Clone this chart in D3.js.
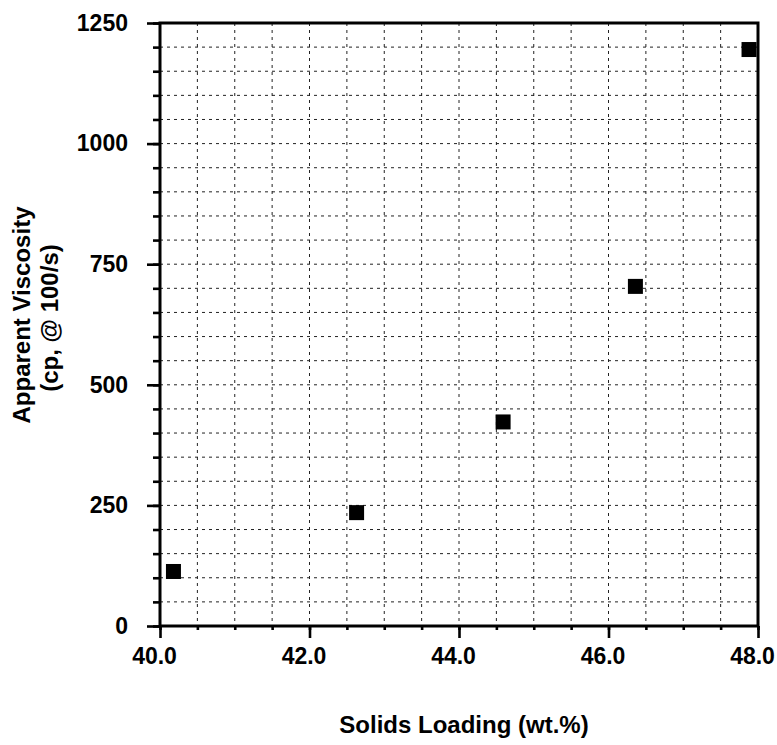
<!DOCTYPE html>
<html>
<head>
<meta charset="utf-8">
<script src="https://cdn.jsdelivr.net/npm/d3@7"></script>
<style>
  html, body { margin: 0; padding: 0; background: #fff; }
  svg { display: block; }
  text { font-family: "Liberation Sans", Arial, Helvetica, sans-serif; font-weight: bold; fill: #000; }
</style>
</head>
<body>
<script>
// Data
const solidsLoading = [40.18, 42.63, 44.59, 46.36, 47.88];
const viscosity = [113, 235, 423, 704, 1195];
const xTickLabels = ["40.0", "42.0", "44.0", "46.0", "48.0"];
const yTickLabels = ["0", "250", "500", "750", "1000", "1250"];
const xTitle = "Solids Loading (wt.%)";
const yTitleLines = ["Apparent Viscosity", "(cp, @ 100/s)"];

const W = 777, H = 745;
const svg = d3.select("body").append("svg").attr("width", W).attr("height", H);

const x = d3.scaleLinear().domain([40, 48]).range([160, 758]);
const y = d3.scaleLinear().domain([0, 1250]).range([626, 23]);

// Grid lines
const xGrid = d3.range(40.5, 48, 0.5);
const yGrid = d3.range(50, 1250, 50);
const grid = svg.append("g");
grid.selectAll("line.v").data(xGrid).join("line")
  .attr("x1", d => x(d)).attr("x2", d => x(d))
  .attr("y1", y(1250)).attr("y2", y(0))
  .attr("stroke", "#222").attr("stroke-width", 1).attr("stroke-dasharray", "3,4");
grid.selectAll("line.h").data(yGrid).join("line")
  .attr("x1", x(40)).attr("x2", x(48))
  .attr("y1", d => y(d)).attr("y2", d => y(d))
  .attr("stroke", "#222").attr("stroke-width", 1).attr("stroke-dasharray", "3,4");

// Axes with D3
const yMajor = yTickLabels.map(Number);
const xMajor = xTickLabels.map(Number);

const yAxisMinor = d3.axisLeft(y).tickValues(d3.range(0, 1251, 50)).tickSize(7).tickFormat("");
const yAxisMajor = d3.axisLeft(y).tickValues(yMajor).tickSize(13).tickPadding(19)
  .tickFormat((d, i) => yTickLabels[i]);
const xAxisMinor = d3.axisBottom(x).tickValues(d3.range(40, 48.01, 0.5)).tickSize(4).tickFormat("");
const xAxisMajor = d3.axisBottom(x).tickValues(xMajor).tickSize(12).tickPadding(10)
  .tickFormat((d, i) => xTickLabels[i]);

function styleAxis(g) {
  g.select(".domain").remove();
  g.selectAll(".tick line").attr("stroke", "#000").attr("stroke-width", 2.6);
  g.selectAll(".tick text").style("font-size", "23px").style("font-family", "'Liberation Sans', Arial, sans-serif").style("font-weight", "bold").attr("fill", "#000");
}

svg.append("g").attr("transform", `translate(${x(40)},0)`).call(yAxisMinor).call(styleAxis);
svg.append("g").attr("transform", `translate(${x(40)},0)`).call(yAxisMajor).call(styleAxis);
svg.append("g").attr("transform", `translate(0,${y(0)})`).call(xAxisMinor).call(styleAxis);
const xg = svg.append("g").attr("transform", `translate(0,${y(0)})`).call(xAxisMajor).call(styleAxis);
xg.selectAll(".tick text").attr("dx", -6);

// Frame
svg.append("rect")
  .attr("x", x(40)).attr("y", y(1250))
  .attr("width", x(48) - x(40)).attr("height", y(0) - y(1250))
  .attr("fill", "none").attr("stroke", "#000").attr("stroke-width", 3);

// Points
const pts = solidsLoading.map((d, i) => ({ x: d, y: viscosity[i] }));
const s = 15;
svg.append("g").selectAll("rect").data(pts).join("rect")
  .attr("x", d => x(d.x) - s / 2).attr("y", d => y(d.y) - s / 2)
  .attr("width", s).attr("height", s).attr("fill", "#000");

// Titles
svg.append("text").attr("x", 464).attr("y", 733).attr("text-anchor", "middle")
  .style("font-size", "24px").text(xTitle);
svg.append("text").attr("transform", "translate(30,315) rotate(-90)").attr("text-anchor", "middle")
  .style("font-size", "24px").text(yTitleLines[0]);
svg.append("text").attr("transform", "translate(58,318) rotate(-90)").attr("text-anchor", "middle")
  .style("font-size", "24px").text(yTitleLines[1]);
</script>
</body>
</html>
